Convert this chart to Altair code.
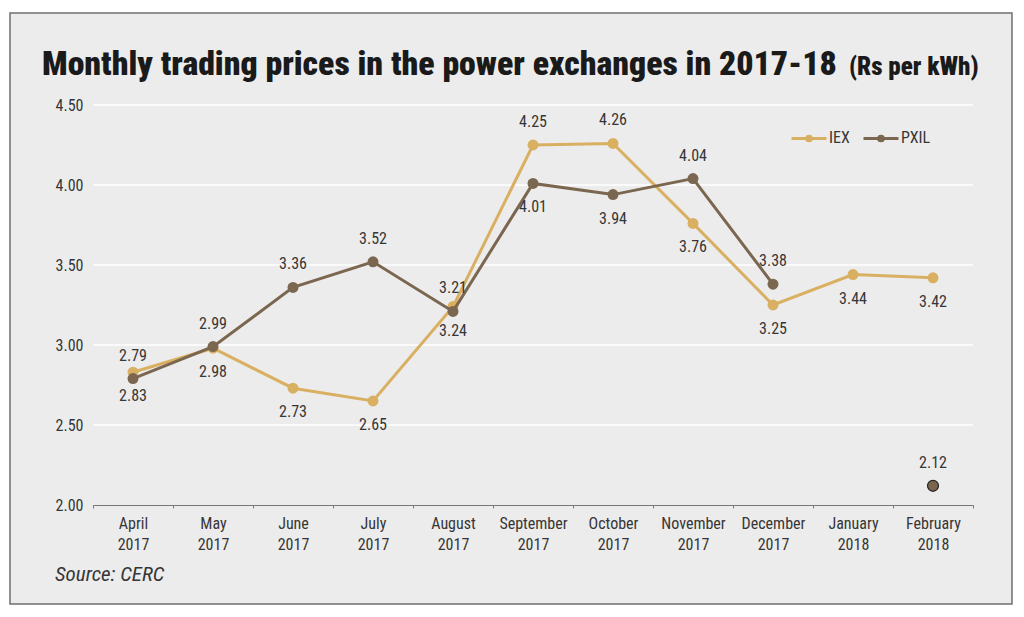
import altair as alt
import pandas as pd

months = ["April 2017", "May 2017", "June 2017", "July 2017", "August 2017",
          "September 2017", "October 2017", "November 2017", "December 2017",
          "January 2018", "February 2018"]
iex = [2.83, 2.98, 2.73, 2.65, 3.24, 4.25, 4.26, 3.76, 3.25, 3.44, 3.42]
pxil = [2.79, 2.99, 3.36, 3.52, 3.21, 4.01, 3.94, 4.04, 3.38, None, 2.12]
# label side: 1 = above the point, -1 = below
iex_side = [-1, -1, -1, -1, -1, 1, 1, -1, -1, -1, -1]
pxil_side = [1, 1, 1, 1, 1, -1, -1, 1, 1, 1, 1]
# PXIL February stands alone (no January value)
pxil_seg = [0, 0, 0, 0, 0, 0, 0, 0, 0, 0, 1]

title_main = "Monthly trading prices in the power exchanges in 2017-18"
title_unit = "(Rs per kWh)"
source = "Source: CERC"
y_ticks = [2.0, 2.5, 3.0, 3.5, 4.0, 4.5]
grid_vals = [2.5, 3.0, 3.5, 4.0, 4.5]

C_IEX = "#d9b062"
C_PXIL = "#7b6750"
FONT = "Roboto Condensed, Liberation Sans Narrow, DejaVu Sans Condensed, Liberation Sans"
TFONT = "Roboto Condensed, Liberation Sans Narrow, DejaVu Sans Condensed, Liberation Sans"
TXT = "#363636"

rows = []
for i, m in enumerate(months):
    rows.append({"month": m, "series": "IEX", "value": iex[i], "side": iex_side[i], "seg": 0})
    if pxil[i] is not None:
        rows.append({"month": m, "series": "PXIL", "value": pxil[i], "side": pxil_side[i], "seg": pxil_seg[i]})
df = pd.DataFrame(rows)

W, H = 880, 400

x_enc = alt.X("month:N", sort=months,
              scale=alt.Scale(domain=months, paddingInner=0, paddingOuter=0),
              axis=alt.Axis(title=None, labelAngle=0, labelExpr="split(datum.label, ' ')",
                            labelFont=FONT, labelFontSize=16, labelColor=TXT,
                            labelLineHeight=21, labelPadding=7, labelBaseline="top",
                            tickBand="extent", tickSize=3, tickColor="#777777",
                            domainColor="#777777", domainWidth=1.2, grid=False, zindex=1))
y_scale = alt.Scale(domain=[2.0, 4.5], nice=False, zero=False)
y_axis = alt.Axis(title=None, values=y_ticks, format=".2f", labelFont=FONT,
                  labelFontSize=16, labelColor=TXT, labelPadding=10,
                  domain=False, ticks=False, grid=False, zindex=1)
y_enc = alt.Y("value:Q", scale=y_scale, axis=y_axis)
color_enc = alt.Color("series:N",
                      scale=alt.Scale(domain=["IEX", "PXIL"], range=[C_IEX, C_PXIL]),
                      legend=alt.Legend(title=None, orient="none", legendX=697, legendY=14,
                                        direction="horizontal",
                                        symbolType="M-1,0L1,0M-0.14,0A0.14,0.14 0 1,0 0.14,0A0.14,0.14 0 1,0 -0.14,0",
                                        symbolSize=1225, symbolStrokeWidth=2.8,
                                        labelFont=FONT, labelFontSize=16, labelColor=TXT,
                                        labelOffset=1, columnPadding=7, zindex=1))

box = alt.Chart(pd.DataFrame({"k": [0]})).mark_rect(
    fill="#edecec", stroke="#6f6f6f", strokeWidth=1.5
).encode(x=alt.value(-83), x2=alt.value(919), y=alt.value(-92), y2=alt.value(499))

grid = alt.Chart(pd.DataFrame({"value": grid_vals})).mark_rule(color="#ffffff", strokeWidth=1.3).encode(
    y=y_enc, x=alt.value(0), x2=alt.value(W))

base = alt.Chart(df)

def series_layers(name, col):
    d = base.transform_filter(alt.datum.series == name)
    line = d.mark_line(strokeWidth=3).encode(x=x_enc, y=y_enc, color=color_enc, detail="seg:N")
    pts = d.mark_point(filled=True, size=120, opacity=1).encode(
        x=x_enc, y=y_enc, color=color_enc,
        stroke=alt.condition(alt.datum.seg == 1, alt.value("#222222"), alt.value(col)),
        strokeWidth=alt.condition(alt.datum.seg == 1, alt.value(1.2), alt.value(0)))
    return [line, pts]

lab_above = base.transform_filter(alt.datum.side == 1).transform_calculate(
    lbl="format(datum.value, '.2f')").mark_text(
    font=FONT, fontSize=16, color=TXT, baseline="middle", dy=-23
).encode(x=x_enc, y=y_enc, text="lbl:N")
lab_below = base.transform_filter(alt.datum.side == -1).transform_calculate(
    lbl="format(datum.value, '.2f')").mark_text(
    font=FONT, fontSize=16, color=TXT, baseline="middle", dy=24
).encode(x=x_enc, y=y_enc, text="lbl:N")

t1 = alt.Chart(pd.DataFrame({"t": [title_main]})).mark_text(
    font=TFONT, fontSize=33.8, fontWeight=900, color="#1a1a1a", align="left", baseline="alphabetic"
).encode(x=alt.value(-51), y=alt.value(-30), text="t:N")
t2 = alt.Chart(pd.DataFrame({"t": [title_unit]})).mark_text(
    font=TFONT, fontSize=25, fontWeight=900, color="#1a1a1a", align="left", baseline="alphabetic"
).encode(x=alt.value(756), y=alt.value(-30), text="t:N")
src = alt.Chart(pd.DataFrame({"t": [source]})).mark_text(
    font=FONT, fontSize=21, fontStyle="italic", color=TXT, align="left", baseline="alphabetic"
).encode(x=alt.value(-38), y=alt.value(476), text="t:N")

chart = alt.layer(
    box, grid, *series_layers("IEX", C_IEX), *series_layers("PXIL", C_PXIL),
    lab_above, lab_below, t1, t2, src
).resolve_scale(color="shared").properties(
    width=W, height=H, autosize=alt.AutoSizeParams(type="none"),
    padding={"left": 85, "top": 97, "right": 43, "bottom": 103},
    background="#ffffff"
).configure_view(stroke=None)

chart.save("out.html", embed_options={"renderer": "svg", "actions": False})
